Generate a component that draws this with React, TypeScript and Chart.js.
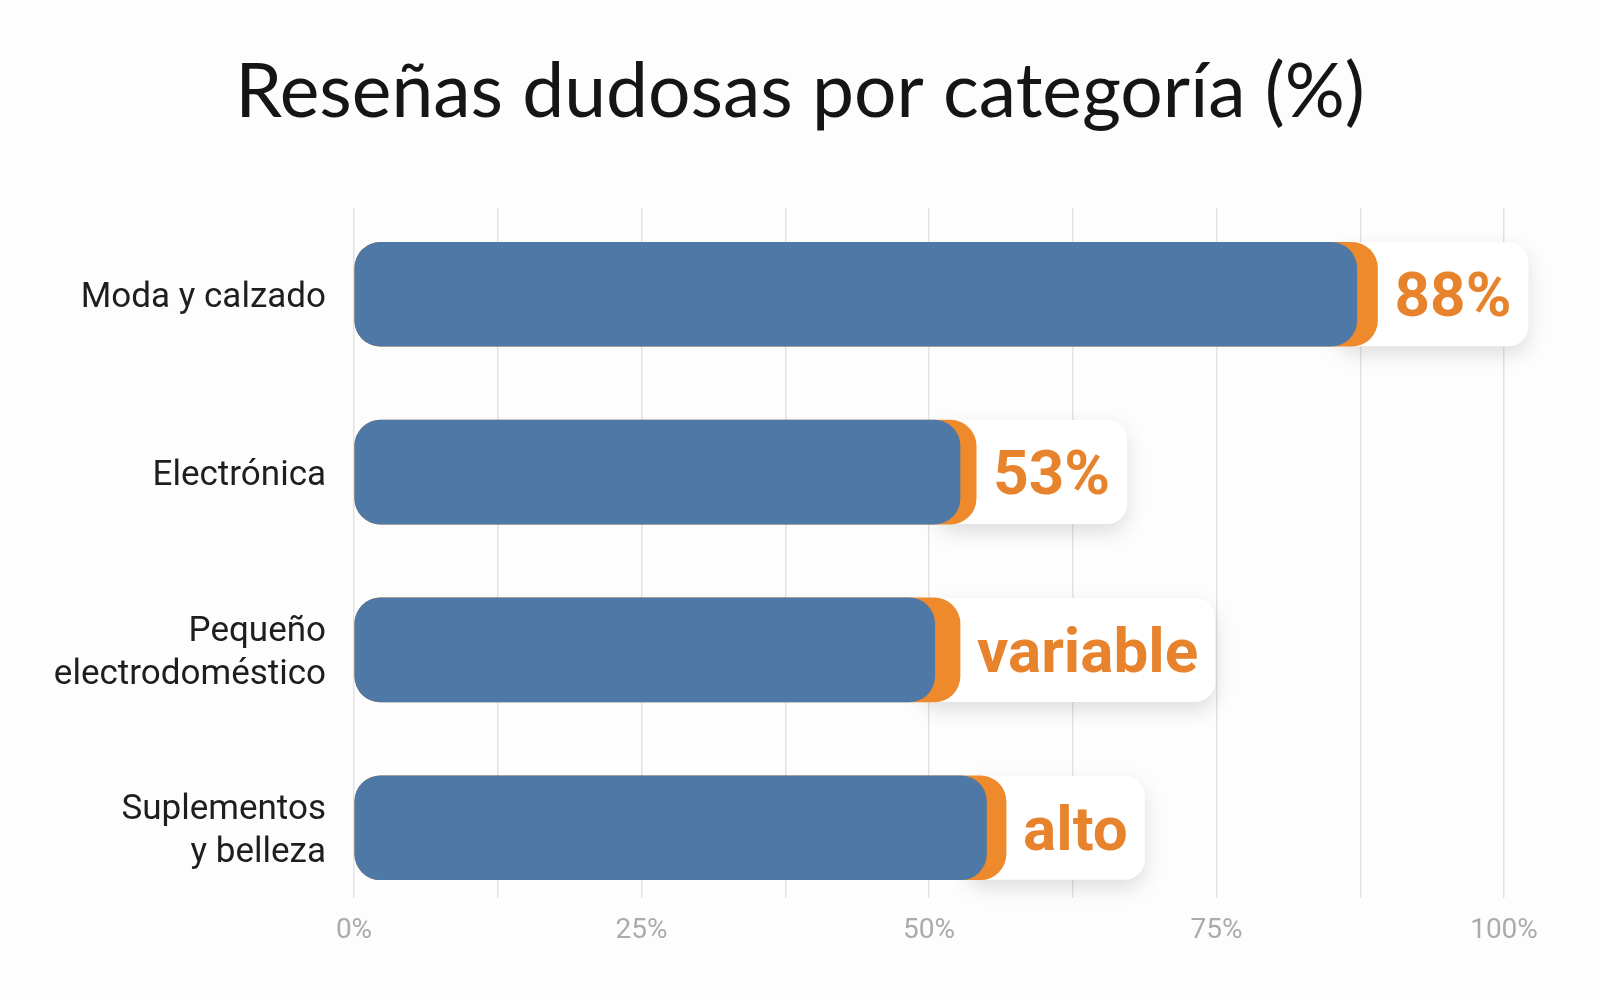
import { useEffect, useRef } from 'react'
import { Chart, registerables, type ChartOptions } from 'chart.js'

Chart.register(...registerables)

// categories, top to bottom
const categories: (string | string[])[] = [
  'Moda y calzado',
  'Electrónica',
  ['Pequeño', 'electrodoméstico'],
  ['Suplementos', 'y belleza'],
]

// where the blue fill stops and where the orange cap ends (percent)
const fillEnds = [87.2, 52.7, 50.5, 55.0]
const capEnds = [89.0, 54.1, 52.7, 56.7]

// text shown in the white badge after each bar
const valueLabels = ['88%', '53%', 'variable', 'alto']

// labelled ticks on the x axis (grid every 12.5)
const xTickLabels = [0, 25, 50, 75, 100]

const BLUE = '#4E79A7'
const ORANGE = '#EF8A2C'
const LABEL_ORANGE = '#E8832D'
const LABEL_FONT = 'bold 62px Roboto'

const valueBoxes = {
  id: 'valueBoxes',
  beforeDatasetsDraw(chart: Chart) {
    const meta = chart.getDatasetMeta(1)
    const ctx = chart.ctx
    ctx.save()
    ctx.font = LABEL_FONT
    meta.data.forEach((bar, i) => {
      const { x, y, height } = bar.getProps(['x', 'y', 'height'], true) as any
      const w = ctx.measureText(valueLabels[i]).width
      const left = x - 40
      const right = x + 17 + w + 17
      ctx.shadowColor = 'rgba(0, 0, 0, 0.13)'
      ctx.shadowBlur = 20
      ctx.shadowOffsetY = 8
      ctx.fillStyle = '#ffffff'
      ctx.beginPath()
      ctx.roundRect(left, y - height / 2, right - left, height, 20)
      ctx.fill()
    })
    ctx.restore()
  },
  afterDatasetsDraw(chart: Chart) {
    const meta = chart.getDatasetMeta(1)
    const ctx = chart.ctx
    ctx.save()
    ctx.font = LABEL_FONT
    ctx.fillStyle = LABEL_ORANGE
    ctx.textAlign = 'left'
    ctx.textBaseline = 'alphabetic'
    meta.data.forEach((bar, i) => {
      const { x, y } = bar.getProps(['x', 'y'], true) as any
      ctx.fillText(valueLabels[i], x + 17, y + 22)
    })
    ctx.restore()
  },
}

const options: ChartOptions<'bar'> = {
  indexAxis: 'y',
  responsive: true,
  maintainAspectRatio: false,
  animation: false,
  layout: { padding: { top: 0, right: 0, bottom: 36, left: 0 } },
  plugins: {
    legend: { display: false },
    tooltip: { enabled: false },
    title: {
      display: true,
      text: 'Reseñas dudosas por categoría (%)',
      color: '#151515',
      font: { family: 'Lato', size: 75, weight: 'normal' },
      padding: { top: 48, bottom: 70 },
    },
  },
  scales: {
    x: {
      type: 'linear',
      min: 0,
      max: 100,
      grid: { color: '#e3e3e3', lineWidth: 1.5, drawTicks: false, tickLength: 0 },
      border: { display: false },
      ticks: {
        stepSize: 12.5,
        autoSkip: false,
        maxRotation: 0,
        padding: 16,
        color: '#ababab',
        font: { family: 'Roboto', size: 28 },
        callback: (v) => (xTickLabels.includes(Number(v)) ? `${v}%` : ''),
      },
    },
    y: {
      type: 'linear',
      reverse: true,
      offset: false,
      min: -0.485,
      max: 3.397,
      grid: { display: false, offset: false, drawTicks: false, tickLength: 0 },
      border: { display: false },
      afterFit: (axis) => {
        axis.width = 354
      },
      ticks: {
        stepSize: 1,
        includeBounds: false,
        autoSkip: false,
        padding: 28,
        labelOffset: 4,
        color: '#1e1e1e',
        font: { family: 'Roboto', size: 35, lineHeight: 1.22 },
        callback: (v) => {
          const n = Number(v)
          return Number.isInteger(n) && categories[n] !== undefined ? categories[n] : ''
        },
      },
    },
    // empty right-hand axis that only reserves the margin, so the title stays centred on the page
    yRight: {
      type: 'linear',
      position: 'right',
      grid: { display: false, drawTicks: false },
      border: { display: false },
      ticks: { display: false },
      afterFit: (axis) => {
        axis.width = 96
      },
    },
  },
}

export default function App() {
  const canvasRef = useRef<HTMLCanvasElement>(null)

  useEffect(() => {
    const canvas = canvasRef.current
    if (!canvas) return
    Chart.getChart(canvas)?.destroy()
    const chart = new Chart(canvas, {
      type: 'bar',
      data: {
        datasets: [
          {
            label: 'fill',
            data: fillEnds.map((v, i) => ({ x: v, y: i })),
            backgroundColor: BLUE,
            borderRadius: 26,
            borderSkipped: false,
            barThickness: 104,
            grouped: false,
            order: 0,
          },
          {
            label: 'cap',
            data: capEnds.map((v, i) => ({ x: v, y: i })),
            backgroundColor: ORANGE,
            borderRadius: 26,
            borderSkipped: false,
            barThickness: 104,
            grouped: false,
            order: 1,
          },
        ],
      },
      options,
      plugins: [valueBoxes],
    })
    return () => chart.destroy()
  }, [])

  return (
    <div
      style={{
        position: 'fixed',
        left: 0,
        top: 0,
        width: 1600,
        height: 1000,
        background: '#fdfdfd',
      }}
    >
      <canvas ref={canvasRef} />
    </div>
  )
}
